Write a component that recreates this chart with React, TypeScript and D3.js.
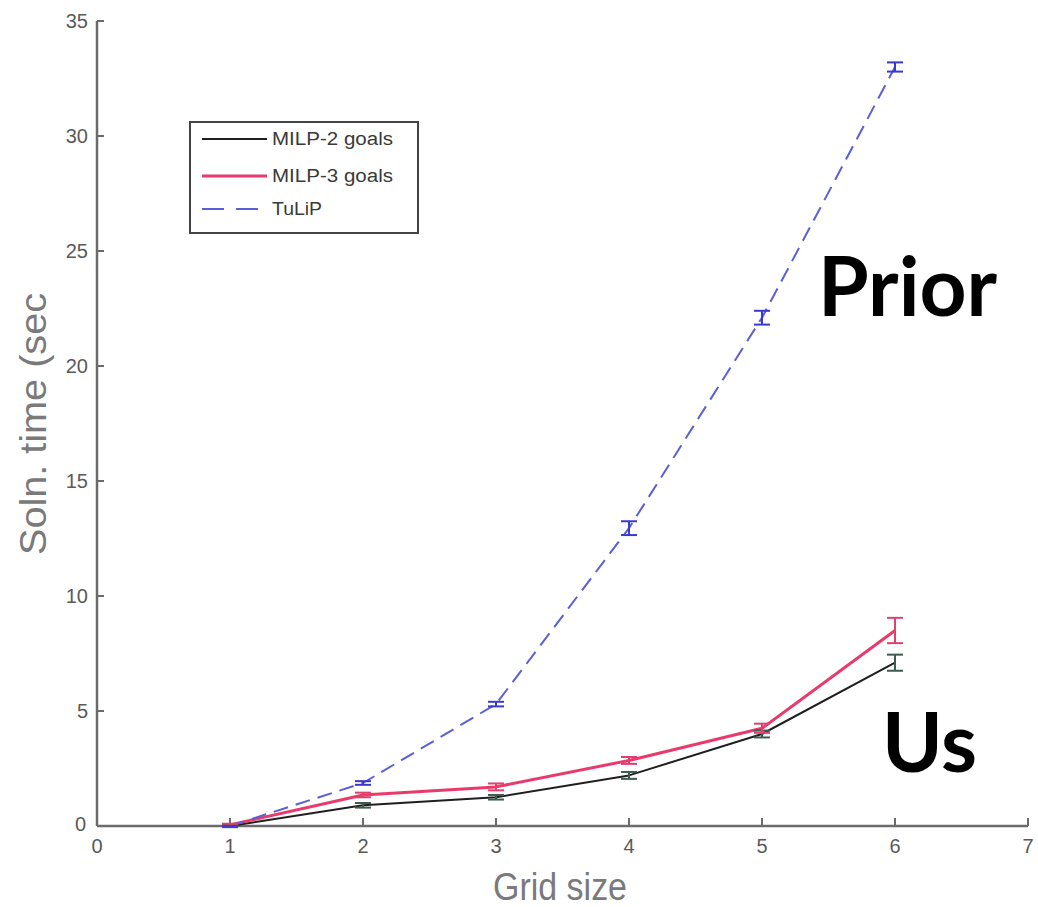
import React from "react";
import * as d3 from "d3";

// Grid sizes and mean solution times (seconds) with error-bar half widths
const gridSizes = [1, 2, 3, 4, 5, 6];
const milp2Times = [0.0, 0.9, 1.25, 2.2, 4.0, 7.1];
const milp2Err = [0.05, 0.1, 0.1, 0.15, 0.15, 0.35];
const milp3Times = [0.05, 1.35, 1.7, 2.85, 4.25, 8.5];
const milp3Err = [0.05, 0.1, 0.15, 0.15, 0.2, 0.55];
const tulipTimes = [0.0, 1.87, 5.3, 12.95, 22.1, 33.0];
const tulipErr = [0.0, 0.08, 0.1, 0.3, 0.3, 0.2];

const xTicks = [0, 1, 2, 3, 4, 5, 6, 7];
const yTicks = [0, 5, 10, 15, 20, 25, 30, 35];

const seriesNames = ["MILP-2 goals", "MILP-3 goals", "TuLiP"];

const W = 1038;
const H = 907;

export default function App() {
  const x = d3.scaleLinear().domain([0, 7]).range([97, 1028]);
  const y = d3.scaleLinear().domain([0, 35]).range([826, 21]);

  const line = d3
    .line<[number, number]>()
    .x((d) => x(d[0]))
    .y((d) => y(d[1]));

  const series = [
    { name: seriesNames[0], vals: milp2Times, err: milp2Err, color: "#1f1f1f", errColor: "#3f5a4e", width: 2, dash: "" },
    { name: seriesNames[1], vals: milp3Times, err: milp3Err, color: "#ea3a6c", errColor: "#e0406e", width: 3, dash: "" },
    { name: seriesNames[2], vals: tulipTimes, err: tulipErr, color: "#5b5fd6", errColor: "#3a3ad0", width: 2, dash: "15 8" },
  ];

  const axisColor = "#6b6b6b";
  const tickFont = "'Liberation Sans', Arial, sans-serif";

  return (
    <svg
      width={W}
      height={H}
      viewBox={`0 0 ${W} ${H}`}
      style={{ position: "absolute", left: 0, top: 0, background: "#fff" }}
    >
      <rect x={0} y={0} width={W} height={H} fill="#ffffff" />

      {/* axes */}
      <line x1={x(0)} x2={x(0)} y1={y(35)} y2={y(0)} stroke={axisColor} strokeWidth={2.5} />
      <line x1={x(0)} x2={x(7)} y1={y(0)} y2={y(0)} stroke={axisColor} strokeWidth={2.5} />

      {/* y ticks */}
      {yTicks.map((t) => (
        <g key={`y${t}`}>
          <line x1={x(0)} x2={x(0) + 7} y1={y(t)} y2={y(t)} stroke={axisColor} strokeWidth={2} />
          <text
            x={t === 0 ? 86 : 88}
            y={y(t) + (t === 0 ? -2 : 0)}
            textAnchor="end"
            dominantBaseline="central"
            fontFamily={tickFont}
            fontSize={20}
            fill="#5a5a5a"
          >
            {t}
          </text>
        </g>
      ))}

      {/* x ticks */}
      {xTicks.map((t) => (
        <g key={`x${t}`}>
          <line x1={x(t)} x2={x(t)} y1={y(0)} y2={y(0) - 8} stroke={axisColor} strokeWidth={2} />
          <text
            x={x(t)}
            y={846}
            textAnchor="middle"
            dominantBaseline="central"
            fontFamily={tickFont}
            fontSize={20}
            fill="#5a5a5a"
          >
            {t}
          </text>
        </g>
      ))}

      {/* axis titles */}
      <text
        transform={`translate(46, 424) rotate(-90)`}
        textAnchor="middle"
        fontFamily={tickFont}
        fontSize={36}
        fill="#7a7a7a"
        textLength={262}
        lengthAdjust="spacingAndGlyphs"
      >
        Soln. time (sec
      </text>
      <text
        x={560}
        y={900}
        textAnchor="middle"
        fontFamily={tickFont}
        fontSize={38}
        fill="#7a7a7a"
        textLength={134}
        lengthAdjust="spacingAndGlyphs"
      >
        Grid size
      </text>

      {/* series lines */}
      {series.map((s) => (
        <path
          key={s.name}
          d={line(gridSizes.map((g, i) => [g, s.vals[i]] as [number, number])) || ""}
          fill="none"
          stroke={s.color}
          strokeWidth={s.width}
          strokeDasharray={s.dash || undefined}
          strokeLinejoin="round"
        />
      ))}

      {/* error bars */}
      {series.map((s) =>
        gridSizes.map((g, i) => {
          const lo = y(s.vals[i] - s.err[i]);
          const hi = y(s.vals[i] + s.err[i]);
          const cx = x(g);
          const cap = 8;
          return (
            <g key={`${s.name}-e${i}`} stroke={s.errColor} strokeWidth={2}>
              <line x1={cx} x2={cx} y1={lo} y2={hi} />
              <line x1={cx - cap} x2={cx + cap} y1={lo} y2={lo} />
              <line x1={cx - cap} x2={cx + cap} y1={hi} y2={hi} />
            </g>
          );
        })
      )}

      {/* legend */}
      <rect x={190} y={122} width={228} height={111} fill="#fff" stroke="#444" strokeWidth={2} />
      {series.map((s, i) => {
        const ly = [139, 176, 209][i];
        return (
          <g key={`leg${i}`}>
            <line
              x1={202}
              x2={267}
              y1={ly}
              y2={ly}
              stroke={s.color}
              strokeWidth={s.width}
              strokeDasharray={s.dash ? "22 12" : undefined}
            />
            <text
              x={272}
              y={ly}
              dominantBaseline="central"
              fontFamily={tickFont}
              fontSize={18}
              fill="#3a3a3a"
              textLength={i === 2 ? 50 : 121}
              lengthAdjust="spacingAndGlyphs"
            >
              {s.name}
            </text>
          </g>
        );
      })}

      {/* annotations */}
      <text x={818} y={316} fontFamily="Lato, 'Open Sans', sans-serif" fontWeight={700} fontSize={82} fill="#000">
        Prior
      </text>
      <text x={882} y={772} fontFamily="Lato, 'Open Sans', sans-serif" fontWeight={700} fontSize={82} fill="#000">
        Us
      </text>
    </svg>
  );
}
